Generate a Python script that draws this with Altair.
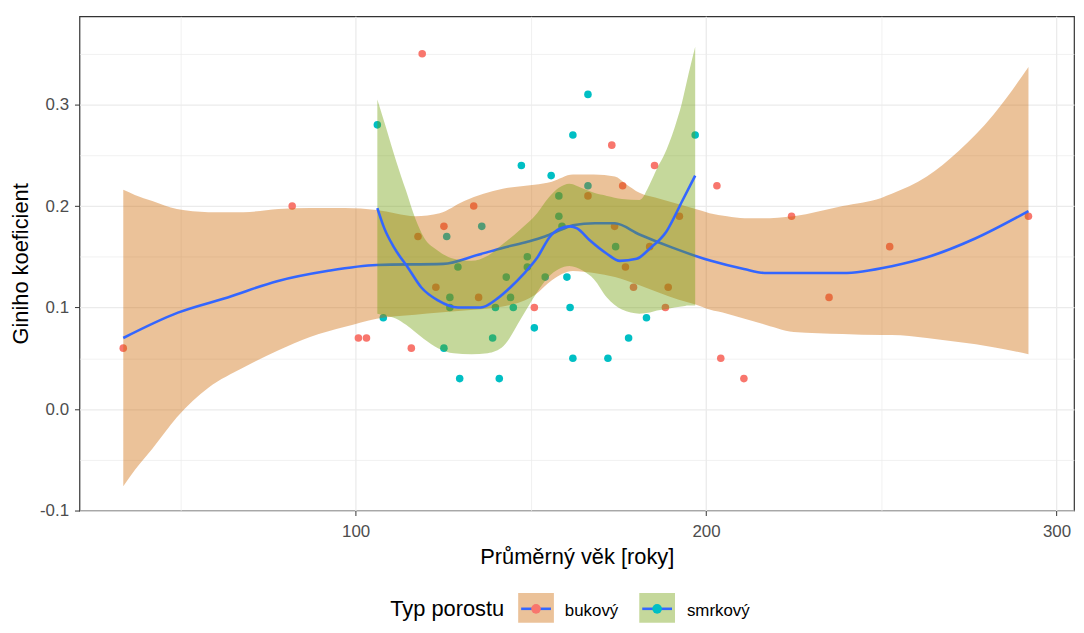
import altair as alt
import pandas as pd

# ---------------- data ----------------
# bukový (beech) points
buk_x = [33.7, 81.9, 100.8, 103.1, 115.9, 117.8, 119.0, 122.9, 125.2, 133.7,
         135.1, 151.0, 166.3, 173.1, 173.9, 176.2, 177.0, 179.3, 183.9, 185.3,
         188.4, 189.2, 192.4, 203.1, 204.2, 210.8, 224.4, 235.1, 252.4, 292.0]
buk_y = [0.06, 0.20, 0.07, 0.07, 0.06, 0.17, 0.35, 0.12, 0.18, 0.20,
         0.11, 0.10, 0.21, 0.26, 0.18, 0.22, 0.14, 0.12, 0.16, 0.24,
         0.10, 0.12, 0.19, 0.22, 0.05, 0.03, 0.19, 0.11, 0.16, 0.19]

# smrkový (spruce) points
smr_x = [106.2, 107.9, 125.2, 126.0, 126.9, 126.9, 129.2, 129.7, 136.0, 139.1,
         139.9, 141.0, 143.0, 144.2, 145.0, 147.3, 149.0, 149.0, 151.0, 154.1,
         155.8, 158.0, 158.0, 158.9, 160.3, 161.2, 162.0, 162.0, 166.3, 166.3,
         172.0, 174.2, 177.9, 183.0, 196.9]
smr_y = [0.28, 0.09, 0.06, 0.17, 0.11, 0.10, 0.14, 0.03, 0.18, 0.07,
         0.10, 0.03, 0.13, 0.11, 0.10, 0.24, 0.15, 0.14, 0.08, 0.13,
         0.23, 0.21, 0.19, 0.18, 0.13, 0.10, 0.27, 0.05, 0.31, 0.22,
         0.05, 0.16, 0.07, 0.09, 0.27]

# bukový smooth: band and fitted line
buk_band_x = [33.7, 37, 42, 49, 58, 68, 78, 87, 97, 106, 117, 124, 131, 142, 151,
              156, 162, 168, 174, 177, 181, 187, 192, 197, 201, 206, 211, 216,
              225, 239, 250, 253, 263, 272, 282, 292]
buk_band_lo = [-0.076, -0.060, -0.039, -0.008, 0.021, 0.041, 0.058, 0.071, 0.081,
               0.089, 0.093, 0.095, 0.097, 0.101, 0.112, 0.127, 0.136, 0.134,
               0.130, 0.127, 0.122, 0.114, 0.108, 0.103, 0.098, 0.094, 0.089,
               0.084, 0.076, 0.074, 0.073, 0.073, 0.070, 0.066, 0.061, 0.054]
buk_band_hi = [0.216, 0.211, 0.205, 0.197, 0.194, 0.194, 0.197, 0.198, 0.198,
               0.196, 0.190, 0.193, 0.205, 0.217, 0.221, 0.224, 0.231, 0.231,
               0.229, 0.222, 0.213, 0.207, 0.202, 0.197, 0.193, 0.190, 0.188,
               0.188, 0.190, 0.200, 0.208, 0.212, 0.229, 0.254, 0.290, 0.337]
buk_fit_x = [33.7, 49.3, 63.5, 77.6, 91.8, 106, 125, 135, 142.2, 149.3, 154,
             158.9, 162, 168.3, 173.9, 181, 190.4, 201.4, 210.8, 217.3, 239,
             253.3, 262.6, 276.8, 292]
buk_fit_y = [0.070, 0.095, 0.110, 0.126, 0.136, 0.142, 0.143, 0.152, 0.159,
             0.165, 0.170, 0.177, 0.181, 0.183, 0.183, 0.172, 0.159, 0.146,
             0.138, 0.134, 0.134, 0.141, 0.149, 0.168, 0.195]

# smrkový smooth: band and fitted line
smr_band_x = [106.2, 108.8, 111.6, 114.4, 117, 119.5, 123.5, 128, 133, 137.7,
              142.2, 147, 151.8, 155, 158, 161, 165, 168, 171.7, 176, 181, 184,
              186, 188, 191, 193, 195, 196.9]
smr_band_lo = [0.094, 0.092, 0.089, 0.083, 0.076, 0.069, 0.060, 0.055, 0.054,
               0.055, 0.062, 0.088, 0.115, 0.130, 0.138, 0.141, 0.136, 0.128,
               0.110, 0.098, 0.094, 0.095, 0.097, 0.098, 0.100, 0.101, 0.102, 0.102]
smr_band_hi = [0.305, 0.276, 0.244, 0.215, 0.188, 0.169, 0.156, 0.148, 0.146,
               0.151, 0.163, 0.177, 0.193, 0.208, 0.218, 0.222, 0.217, 0.213,
               0.210, 0.207, 0.206, 0.222, 0.237, 0.250, 0.277, 0.300, 0.330, 0.357]
smr_fit_x = [106.2, 108.2, 111, 115, 118.7, 123.5, 129.2, 135.7, 140.5, 144.2,
             147.9, 151.8, 155.5, 158.4, 161.2, 163.2, 166.9, 171.7, 175.4,
             180.2, 183.9, 188.7, 193.2, 196.9]
smr_fit_y = [0.198, 0.178, 0.159, 0.139, 0.120, 0.107, 0.100, 0.100, 0.109,
             0.120, 0.133, 0.149, 0.170, 0.178, 0.180, 0.178, 0.166, 0.153,
             0.146, 0.148, 0.158, 0.175, 0.205, 0.230]

categories = ["bukový", "smrkový"]
point_colors = ["#F8766D", "#00BFC4"]
band_colors = ["#CD6600", "#6E9D05"]
line_color = "#3366FF"

x_ticks = [50, 100, 150, 200, 250, 300]
y_ticks = [-0.1, -0.05, 0.0, 0.05, 0.1, 0.15, 0.2, 0.25, 0.3, 0.35]

# ---------------- tables ----------------
pts = pd.concat([
    pd.DataFrame({"x": buk_x, "y": buk_y, "typ": categories[0]}),
    pd.DataFrame({"x": smr_x, "y": smr_y, "typ": categories[1]}),
])
buk_band = pd.DataFrame({"x": buk_band_x, "y": buk_band_lo, "hi": buk_band_hi})
smr_band = pd.DataFrame({"x": smr_band_x, "y": smr_band_lo, "hi": smr_band_hi})
buk_fit = pd.DataFrame({"x": buk_fit_x, "y": buk_fit_y})
smr_fit = pd.DataFrame({"x": smr_fit_x, "y": smr_fit_y})

W, H = 1002, 498
FONT = "Liberation Sans"
TICK_FS = 17
TITLE_FS = 22

x_test = "datum.value % 100 === 0"
x_axis = alt.Axis(
    values=x_ticks, format="d", title="Průměrný věk [roky]",
    labelExpr="datum.value % 100 === 0 ? datum.label : ''",
    tickSize=5, tickColor="#333333",
    tickOpacity={"condition": {"test": x_test, "value": 1}, "value": 0},
    gridColor="#EBEBEB",
    gridWidth={"condition": {"test": x_test, "value": 1.3}, "value": 0.7},
    domain=False, labelFontSize=TICK_FS, labelColor="#4D4D4D", labelPadding=8,
    titleFontSize=TITLE_FS, titleColor="#000000", titleFontWeight="normal", titlePadding=7,
)
y_test = "abs(round(datum.value * 100)) % 10 === 0"
y_axis = alt.Axis(
    values=y_ticks, format=".1f", title="Giniho koeficient",
    labelExpr="abs(round(datum.value * 100)) % 10 === 0 ? replace(datum.label, '\u2212', '-') : ''",
    tickSize=5, tickColor="#333333",
    tickOpacity={"condition": {"test": y_test, "value": 1}, "value": 0},
    gridColor="#EBEBEB",
    gridWidth={"condition": {"test": y_test, "value": 1.3}, "value": 0.7},
    domain=False, labelFontSize=TICK_FS, labelColor="#4D4D4D", labelPadding=6,
    titleFontSize=TITLE_FS, titleColor="#000000", titleFontWeight="normal", titlePadding=7,
)
xs = alt.Scale(domain=[21.2, 305.0], nice=False, zero=False)
ys = alt.Scale(domain=[-0.1, 0.387], nice=False, zero=False)


def X():
    return alt.X("x:Q", scale=xs, axis=x_axis)


def Y():
    return alt.Y("y:Q", scale=ys, axis=y_axis)


points = alt.Chart(pts).mark_circle(size=58, opacity=1).encode(
    x=X(), y=Y(),
    color=alt.Color("typ:N", scale=alt.Scale(domain=categories, range=point_colors), legend=None),
)
buk_area = alt.Chart(buk_band).mark_area(
    color=band_colors[0], opacity=0.4, interpolate="monotone"
).encode(x=X(), y=Y(), y2="hi:Q")
buk_line = alt.Chart(buk_fit).mark_line(
    color=line_color, strokeWidth=2.6, interpolate="monotone"
).encode(x=X(), y=Y())
smr_area = alt.Chart(smr_band).mark_area(
    color=band_colors[1], opacity=0.4, interpolate="monotone"
).encode(x=X(), y=Y(), y2="hi:Q")
smr_line = alt.Chart(smr_fit).mark_line(
    color=line_color, strokeWidth=2.6, interpolate="monotone"
).encode(x=X(), y=Y())

# ---------------- legend (drawn below the panel) ----------------
one = pd.DataFrame({"k": [0]})
leg_base = 604        # text baseline, relative to the panel top
leg_mid = 597         # centre of the key symbols
key_top = 581
key_h = 30
key_w = 36
key_left = [442, 564]
label_left = [489, 612]
legend_layers = [
    alt.Chart(one).mark_text(text="Typ porostu", align="left", baseline="alphabetic",
                             fontSize=TITLE_FS, font=FONT, color="#000000")
    .encode(x=alt.value(313), y=alt.value(leg_base))
]
for i, cat in enumerate(categories):
    kx = key_left[i]
    legend_layers += [
        alt.Chart(one).mark_rect(color=band_colors[i], opacity=0.4)
        .encode(x=alt.value(kx), x2=alt.value(kx + key_w), y=alt.value(key_top), y2=alt.value(key_top + key_h)),
        alt.Chart(one).mark_rule(color=line_color, strokeWidth=2.6)
        .encode(x=alt.value(kx + 3), x2=alt.value(kx + key_w - 3), y=alt.value(leg_mid)),
        alt.Chart(one).mark_circle(size=95, opacity=1, color=point_colors[i])
        .encode(x=alt.value(kx + key_w / 2), y=alt.value(leg_mid)),
        alt.Chart(one).mark_text(text=cat, align="left", baseline="alphabetic",
                                 fontSize=TICK_FS, font=FONT, color="#000000")
        .encode(x=alt.value(label_left[i]), y=alt.value(leg_base)),
    ]

chart = alt.layer(points, buk_area, buk_line, smr_area, smr_line, *legend_layers).properties(
    width=W, height=H,
    autosize=alt.AutoSizeParams(type="none"),
    padding={"left": 72, "top": 6, "right": 2, "bottom": 113},
).configure(font=FONT).configure_view(
    stroke="#333333", strokeWidth=1.2
)

chart.save("out.html", embed_options={"renderer": "svg", "actions": False})
